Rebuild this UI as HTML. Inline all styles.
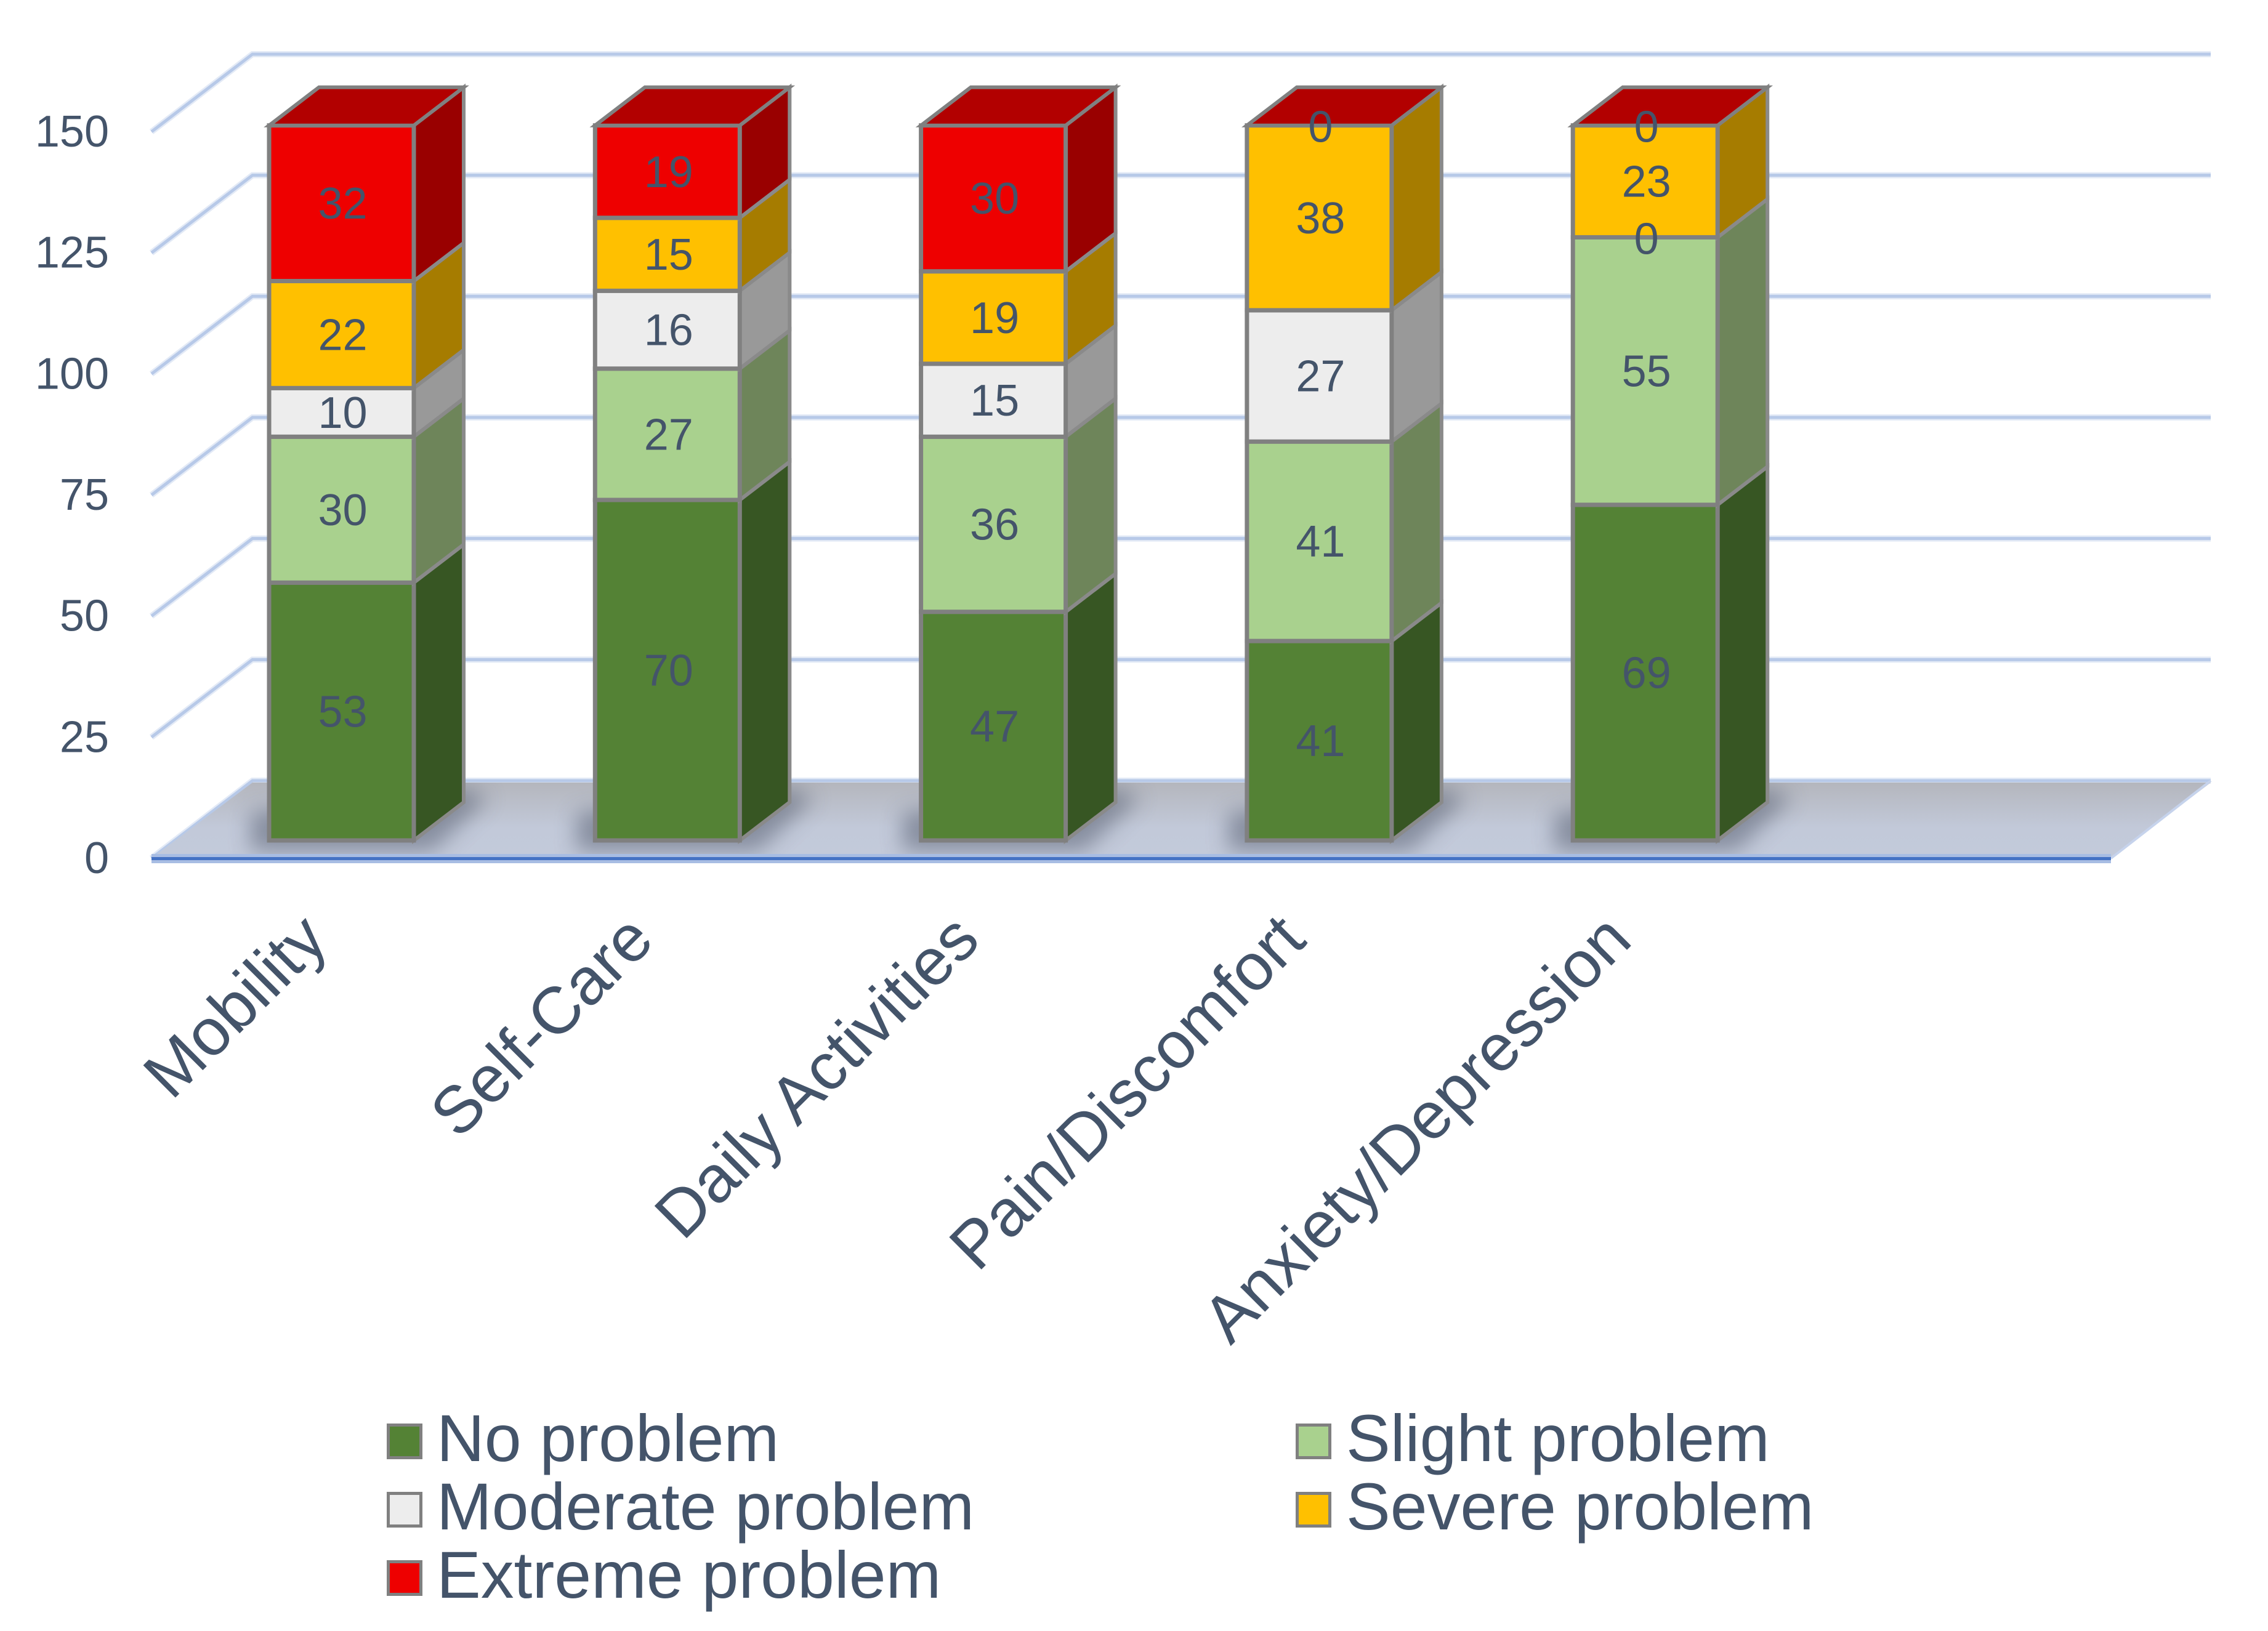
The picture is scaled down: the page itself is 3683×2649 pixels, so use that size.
<!DOCTYPE html>
<html lang="en">
<head>
<meta charset="utf-8">
<title>EQ-5D dimensions stacked 3D column chart</title>
<style>
html,body{margin:0;padding:0;background:#fff;}
body{width:3683px;height:2649px;overflow:hidden;}
svg{display:block;font-family:"Liberation Sans",sans-serif;}
text{fill:#44546A;}
</style>
</head>
<body>
<svg id="chart" xmlns="http://www.w3.org/2000/svg" width="3683" height="2649" viewBox="0 0 3683 2649">
  <defs>
    <linearGradient id="floorGrad" x1="0" y1="0" x2="0" y2="1">
      <stop offset="0" stop-color="#B4B6BD"/>
      <stop offset="0.6" stop-color="#C2C9D9"/>
      <stop offset="1" stop-color="#C3CADA"/>
    </linearGradient>
    <filter id="shadowBlur" x="-40%" y="-80%" width="180%" height="260%">
      <feGaussianBlur stdDeviation="17"/>
    </filter>
    <clipPath id="floorClip">
      <polygon points="246,1394 410,1271 3590,1271 3428,1394"/>
    </clipPath>
  </defs>
  <rect x="0" y="0" width="3683" height="2649" fill="#FFFFFF"/>
  <g id="grid"></g>
  <g id="floor"></g>
  <g id="bars"></g>
  <g id="yLabels"></g>
  <g id="xLabels"></g>
  <g>
    <g>
      <rect x="630.5" y="2314.5" width="53" height="53" fill="#548235" stroke="#808080" stroke-width="5"/>
      <text x="709" y="2373" font-size="107.6">No problem</text>
    </g>
    <g>
      <rect x="2106.5" y="2314.5" width="53" height="53" fill="#A9D18E" stroke="#808080" stroke-width="5"/>
      <text x="2186" y="2373" font-size="107.6">Slight problem</text>
    </g>
    <g>
      <rect x="630.5" y="2425.5" width="53" height="53" fill="#EDEDED" stroke="#808080" stroke-width="5"/>
      <text x="709" y="2484" font-size="107.6">Moderate problem</text>
    </g>
    <g>
      <rect x="2106.5" y="2425.5" width="53" height="53" fill="#FFC000" stroke="#808080" stroke-width="5"/>
      <text x="2186" y="2484" font-size="107.6">Severe problem</text>
    </g>
    <g>
      <rect x="630.5" y="2536.5" width="53" height="53" fill="#EE0000" stroke="#808080" stroke-width="5"/>
      <text x="709" y="2595" font-size="107.6">Extreme problem</text>
    </g>
  </g>
</svg>
<script>
const categories = ["Mobility", "Self-Care", "Daily Activities", "Pain/Discomfort", "Anxiety/Depression"];
const noProblem = [53, 70, 47, 41, 69];
const slightProblem = [30, 27, 36, 41, 55];
const moderateProblem = [10, 16, 15, 27, 0];
const severeProblem = [22, 15, 19, 38, 23];
const extremeProblem = [32, 19, 30, 0, 0];
const yTicks = [0, 25, 50, 75, 100, 125, 150];

const NS = "http://www.w3.org/2000/svg";
const seriesList = [
  { key: "no-problem", values: noProblem, front: "#548235", side: "#375623" },
  { key: "slight-problem", values: slightProblem, front: "#A9D18E", side: "#6E855A" },
  { key: "moderate-problem", values: moderateProblem, front: "#EDEDED", side: "#999999" },
  { key: "severe-problem", values: severeProblem, front: "#FFC000", side: "#A67C00" },
  { key: "extreme-problem", values: extremeProblem, front: "#EE0000", side: "#990000" }
];

/* axis functions */
const barBaseY = 1365, barUnit = 7.9;
const gridBackBase = 1268, gridFrontBase = 1394, gridUnit = 7.867;
const barLeft0 = 437, barStep = 529.3, barWidth = 235, depthX = 81, depthY = 62;
function yBar(v) { return barBaseY - v * barUnit; }
function yBack(v) { return gridBackBase - v * gridUnit; }
function yFront(v) { return gridFrontBase - v * gridUnit; }
function xBar(i) { return barLeft0 + i * barStep; }

function make(tag, attrs, parent) {
  const n = document.createElementNS(NS, tag);
  for (const k in attrs) n.setAttribute(k, attrs[k]);
  parent.appendChild(n);
  return n;
}
function slug(s) { return s.toLowerCase().replace(/[^a-z]+/g, "-"); }

const gridG = document.getElementById("grid");
const floorG = document.getElementById("floor");
const barsG = document.getElementById("bars");
const yG = document.getElementById("yLabels");
const xG = document.getElementById("xLabels");

/* gridlines: front-to-back diagonal then the horizontal run on the back wall */
yTicks.forEach(function (t) {
  const pts = "246," + yFront(t) + " 410," + yBack(t) + " 3590," + yBack(t);
  const halo = make("polyline", { points: pts, fill: "none", stroke: "#E3EAF6", "stroke-width": 10 }, gridG);
  
  
  const line = make("polyline", { points: pts, fill: "none", stroke: "#B7C9E8", "stroke-width": 5 }, gridG);
  
  
});

/* floor */
const floorPoly = make("polygon", { points: "246,1394 410,1271 3590,1271 3428,1394", fill: "url(#floorGrad)" }, floorG);



const shadowG = make("g", { "clip-path": "url(#floorClip)" }, floorG);


categories.forEach(function (c, i) {
  const x = xBar(i);
  const pts = [
    [x - 30, 1320], [x + barWidth + depthX, 1280], [x + barWidth + depthX + 40, 1295],
    [x + barWidth + 30, 1382], [x - 30, 1382]
  ].map(function (p) { return p.join(","); }).join(" ");
  const s = make("polygon", { points: pts, fill: "#5E6678", opacity: 0.6, filter: "url(#shadowBlur)" }, shadowG);
  
  
});

const floorEdge = make("polyline", { points: "3428,1394 3590,1268", fill: "none", stroke: "#C6D3EC", "stroke-width": 4 }, floorG);


const axisHalo = make("rect", { x: 246, y: 1387, width: 3182, height: 15, fill: "#A8BDE3" }, floorG);


const axisLine = make("rect", { x: 246, y: 1392, width: 3182, height: 5, fill: "#4472C4" }, floorG);



/* bars */
categories.forEach(function (cat, i) {
  const x = xBar(i);
  const g = make("g", {}, barsG);
  
  
  let cum = 0;
  const labelQueue = [];
  seriesList.forEach(function (s) {
    const v = s.values[i];
    const yb = yBar(cum);
    const yt = yBar(cum + v);
    cum += v;
    if (v > 0) {
      const side = make("polygon", {
        points: (x + barWidth) + "," + yb + " " + (x + barWidth + depthX) + "," + (yb - depthY) + " " +
                (x + barWidth + depthX) + "," + (yt - depthY) + " " + (x + barWidth) + "," + yt,
        fill: s.side, stroke: "#8A8A8A", "stroke-width": 6, "stroke-linejoin": "miter"
      }, g);
      
      
      const front = make("rect", {
        x: x, y: yt, width: barWidth, height: yb - yt,
        fill: s.front, stroke: "#808080", "stroke-width": 7
      }, g);
      
      
    }
    labelQueue.push({ key: s.key, v: v, y: (yb + yt) / 2 });
  });
  const yTop = yBar(cum);
  const topFace = make("polygon", {
    points: x + "," + yTop + " " + (x + depthX) + "," + (yTop - depthY) + " " +
            (x + barWidth + depthX) + "," + (yTop - depthY) + " " + (x + barWidth) + "," + yTop,
    fill: "#B20000", stroke: "#808080", "stroke-width": 6
  }, g);
  
  
  labelQueue.forEach(function (l) {
    const t = make("text", {
      x: x + barWidth / 2 + 2, y: l.y + 25 + (l.v === 0 ? 2 : 0), "font-size": 72, "text-anchor": "middle"
    }, g);
    
    
    t.textContent = String(l.v);
  });
});

/* y axis labels */
yTicks.forEach(function (t) {
  const lab = make("text", { x: 177, y: yFront(t) + 24, "font-size": 72, "text-anchor": "end" }, yG);
  
  
  lab.textContent = String(t);
});

/* category labels */
categories.forEach(function (c, i) {
  const ax = xBar(i) + barWidth / 2 - 18;
  const ay = 1531;
  const lab = make("text", {
    x: ax, y: ay, "font-size": 107.6, "text-anchor": "end",
    transform: "rotate(-45 " + ax + " " + ay + ")"
  }, xG);
  
  
  lab.textContent = c;
});
</script>
</body>
</html>
